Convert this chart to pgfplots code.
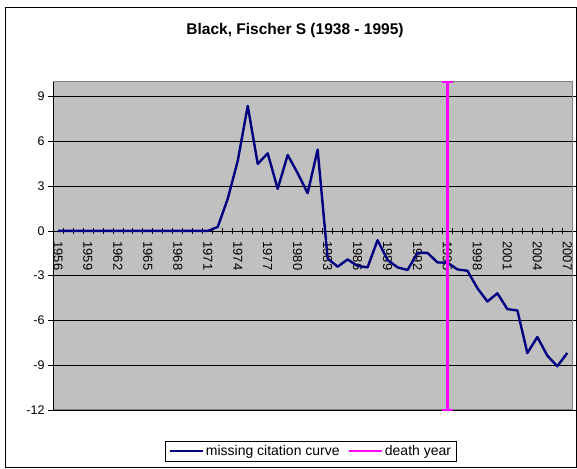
\documentclass[border=0pt]{standalone}
\usepackage{pgfplots}
\pgfplotsset{compat=1.18}
\usepackage{fontspec}
\setmainfont{Liberation Sans}
\definecolor{plotgray}{HTML}{C0C0C0}
\definecolor{bordergray}{HTML}{808080}
\definecolor{navyline}{HTML}{000080}
\definecolor{deathmag}{HTML}{FF00FF}
\begin{document}
\begin{tikzpicture}
\useasboundingbox (0pt,0pt) rectangle (577pt,468pt);
\draw[black, line width=1pt] (5pt,1pt) rectangle (576pt,460.5pt);
\node[font=\fontsize{15.5}{18}\selectfont\bfseries] at (295pt,438pt) {Black, Fischer S (1938 - 1995)};
\begin{axis}[
  at={(53pt,58pt)}, anchor=south west, scale only axis,
  width=519.3pt, height=328.3pt,
  xmin=1955.5, xmax=2007.5, ymin=-12, ymax=10,
  ytick={-12,-9,...,9}, xtick=\empty,
  ymajorgrids, grid style={black, line width=0.8pt},
  tick align=outside, major tick length=5pt,
  tick style={black, line width=0.8pt},
  axis line style={draw=bordergray, line width=1pt},
  axis background/.style={fill=plotgray},
  yticklabel style={font=\fontsize{12.5}{14}\selectfont},
  /pgf/number format/assume math mode=true,
]
\draw[black, line width=0.8pt] (rel axis cs:0,0) -- (rel axis cs:0,1);
\end{axis}
\begin{axis}[
  at={(53pt,58pt)}, anchor=south west, scale only axis,
  width=519.3pt, height=328.3pt,
  xmin=1955.5, xmax=2007.5, ymin=-12, ymax=10,
  axis x line=middle, axis y line=none,
  axis line style={-, black, line width=0.8pt},
  xtick={1956,1959,...,2007}, major tick length=0pt,
  minor xtick={1956.5,1957.5,...,2006.5}, minor tick length=6pt,
  tick align=center, minor tick style={black, line width=0.8pt},
  hide obscured x ticks=false,
  /pgf/number format/1000 sep={},
  /pgf/number format/assume math mode=true,
  xticklabel style={rotate=-90, anchor=west, font=\fontsize{13}{15}\selectfont},
  xticklabel shift=7pt,
  clip=false,
  legend style={at={(0.4964,-0.1249)}, anchor=center, draw=black, fill=white,
    font=\fontsize{14}{16}\selectfont, legend columns=2,
    /tikz/every even column/.append style={column sep=6pt}},
  legend image code/.code={\draw[#1] (0pt,0pt) -- (33pt,0pt);},
]
\addplot[navyline, line width=2.4pt, line join=round] coordinates {
(1956,0) (1957,0) (1958,0) (1959,0) (1960,0) (1961,0) (1962,0) (1963,0)
(1964,0) (1965,0) (1966,0) (1967,0) (1968,0) (1969,0) (1970,0) (1971,0)
(1972,0.27) (1973,2.16) (1974,4.7) (1975,8.38) (1976,4.49) (1977,5.2)
(1978,2.82) (1979,5.09) (1980,3.87) (1981,2.53) (1982,5.45) (1983,-1.84)
(1984,-2.4) (1985,-1.91) (1986,-2.35) (1987,-2.44) (1988,-0.62) (1989,-1.95)
(1990,-2.44) (1991,-2.62) (1992,-1.47) (1993,-1.47) (1994,-2.11) (1995,-2.13)
(1996,-2.58) (1997,-2.67) (1998,-3.84) (1999,-4.73) (2000,-4.18) (2001,-5.24)
(2002,-5.33) (2003,-8.18) (2004,-7.11) (2005,-8.36) (2006,-9.07) (2007,-8.18)
};
\addlegendentry{missing citation curve}
\addplot[deathmag, line width=2.2pt, mark=-, mark size=5.5pt, mark options={solid, line width=2.2pt}] coordinates {(1995,-12) (1995,10)};
\addlegendentry{death year}
\end{axis}
\end{tikzpicture}
\end{document}
